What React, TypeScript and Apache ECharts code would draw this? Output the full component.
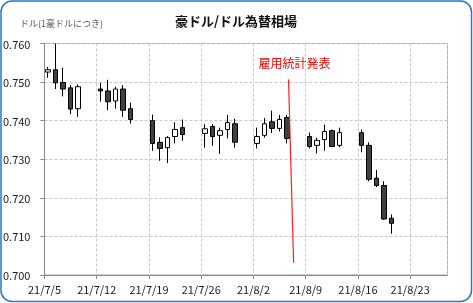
import React, { useEffect, useRef } from "react";
import * as echarts from "echarts";

// ---- data ----
const startDate = "2021-07-05";
const axisMaxDays = 54;
const tickLabels = ["21/7/5", "21/7/12", "21/7/19", "21/7/26", "21/8/2", "21/8/9", "21/8/16", "21/8/23"];

const tradingDays = [
  "2021-07-05", "2021-07-06", "2021-07-07", "2021-07-08", "2021-07-09",
  "2021-07-12", "2021-07-13", "2021-07-14", "2021-07-15", "2021-07-16",
  "2021-07-19", "2021-07-20", "2021-07-21", "2021-07-22", "2021-07-23",
  "2021-07-26", "2021-07-27", "2021-07-28", "2021-07-29", "2021-07-30",
  "2021-08-02", "2021-08-03", "2021-08-04", "2021-08-05", "2021-08-06",
  "2021-08-09", "2021-08-10", "2021-08-11", "2021-08-12", "2021-08-13",
  "2021-08-16", "2021-08-17", "2021-08-18", "2021-08-19", "2021-08-20",
];

const openValues = [
  0.7526, 0.7532, 0.7499, 0.7485, 0.7431,
  0.7482, 0.7477, 0.7451, 0.7482, 0.7431,
  0.7400, 0.7344, 0.7330, 0.7359, 0.7382,
  0.7367, 0.7385, 0.7362, 0.7377, 0.7392,
  0.7341, 0.7362, 0.7397, 0.7380, 0.7408,
  0.7359, 0.7336, 0.7351, 0.7374, 0.7336,
  0.7369, 0.7336, 0.7251, 0.7232, 0.7147,
];
const closeValues = [
  0.7532, 0.7498, 0.7482, 0.7430, 0.7488,
  0.7477, 0.7449, 0.7482, 0.7427, 0.7403,
  0.7341, 0.7328, 0.7356, 0.7377, 0.7364,
  0.7379, 0.7359, 0.7374, 0.7395, 0.7344,
  0.7359, 0.7392, 0.7380, 0.7403, 0.7354,
  0.7333, 0.7349, 0.7372, 0.7333, 0.7369,
  0.7336, 0.7248, 0.7232, 0.7145, 0.7134,
];
const lowValues = [
  0.7511, 0.7482, 0.7463, 0.7417, 0.7410,
  0.7449, 0.7427, 0.7431, 0.7410, 0.7393,
  0.7322, 0.7296, 0.7290, 0.7341, 0.7348,
  0.7330, 0.7335, 0.7314, 0.7354, 0.7330,
  0.7328, 0.7356, 0.7368, 0.7372, 0.7341,
  0.7328, 0.7315, 0.7322, 0.7331, 0.7331,
  0.7318, 0.7243, 0.7228, 0.7143, 0.7107,
];
const highValues = [
  0.7539, 0.7600, 0.7537, 0.7492, 0.7494,
  0.7498, 0.7506, 0.7488, 0.7492, 0.7447,
  0.7416, 0.7357, 0.7360, 0.7396, 0.7403,
  0.7391, 0.7391, 0.7382, 0.7415, 0.7405,
  0.7382, 0.7407, 0.7426, 0.7415, 0.7415,
  0.7369, 0.7356, 0.7390, 0.7377, 0.7382,
  0.7377, 0.7344, 0.7272, 0.7243, 0.7157,
];

const yMin = 0.7;
const yMax = 0.76;
const yInterval = 0.01;

const titleText = "豪ドル/ドル為替相場";
const unitText = "ドル(1豪ドルにつき)";
const eventText = "雇用統計発表";
// annotation line endpoints in data space [day offset, rate]
const eventLineStart = [32.7, 0.7507];
const eventLineEnd = [33.38, 0.7032];
const eventLabelAt = [33.5, 0.7552];

const FONT = "'Noto Sans CJK JP', 'Noto Sans', sans-serif";

function dayOffset(d: string): number {
  const ms = Date.parse(d + "T00:00:00Z") - Date.parse(startDate + "T00:00:00Z");
  return Math.round(ms / 86400000);
}

export default function App() {
  const ref = useRef<HTMLDivElement>(null);

  useEffect(() => {
    if (!ref.current) return;
    const chart = echarts.init(ref.current, null, { renderer: "svg" });

    const candleData = tradingDays.map((d, i) => [
      dayOffset(d) + 0.5,
      openValues[i],
      closeValues[i],
      lowValues[i],
      highValues[i],
    ]);

    chart.setOption({
      animation: false,
      backgroundColor: "transparent",
      graphic: [
        {
          type: "rect",
          z: -100,
          silent: true,
          shape: { x: 1, y: 1, width: 470.5, height: 300.5, r: 11 },
          style: { fill: "#ffffff", stroke: "#2678c8", lineWidth: 1.5 },
        },
        {
          type: "text",
          x: 236,
          y: 20,
          style: {
            text: titleText,
            font: `bold 13px ${FONT}`,
            fill: "#111111",
            align: "center",
            verticalAlign: "middle",
          },
        },
        {
          type: "text",
          x: 20,
          y: 23,
          style: {
            text: unitText,
            font: `9px ${FONT}`,
            fill: "#595959",
            align: "left",
            verticalAlign: "middle",
          },
        },
      ],
      grid: {
        left: 43.5,
        right: 25.5,
        top: 43.5,
        bottom: 28,
        show: true,
        borderColor: "#a6a6a6",
        borderWidth: 1,
        backgroundColor: "transparent",
      },
      xAxis: {
        type: "value",
        min: 0,
        max: axisMaxDays,
        interval: 7,
        axisLine: { show: true, onZero: false, lineStyle: { color: "#898989", width: 1 } },
        axisTick: { show: true, length: 4, lineStyle: { color: "#898989" } },
        splitLine: { show: true, lineStyle: { color: "#c8c8c8", type: [3, 2], width: 1 } },
        axisLabel: {
          color: "#1a1a1a",
          fontSize: 11,
          fontFamily: FONT,
          margin: 8,
          showMaxLabel: false,
          formatter: (v: number) => {
            if (v % 7 !== 0) return "";
            return tickLabels[v / 7] ?? "";
          },
        },
      },
      yAxis: {
        type: "value",
        min: yMin,
        max: yMax,
        interval: yInterval,
        axisLine: { show: true, lineStyle: { color: "#898989", width: 1 } },
        axisTick: { show: true, length: 4, lineStyle: { color: "#898989" } },
        splitLine: { show: true, lineStyle: { color: "#c8c8c8", type: [3, 2], width: 1 } },
        axisLabel: {
          color: "#1a1a1a",
          fontSize: 11,
          fontFamily: FONT,
          margin: 14,
          formatter: (v: number) => v.toFixed(3),
        },
      },
      series: [
        {
          type: "candlestick",
          data: candleData,
          barWidth: 5,
          itemStyle: {
            color: "#ffffff",
            color0: "#404040",
            borderColor: "#000000",
            borderColor0: "#000000",
            borderWidth: 1,
          },
          markLine: {
            silent: true,
            symbol: ["none", "none"],
            label: { show: false },
            lineStyle: { color: "#ff2020", type: "solid", width: 1.2 },
            data: [[{ coord: eventLineStart }, { coord: eventLineEnd }]],
          },
          markPoint: {
            silent: true,
            symbol: "circle",
            symbolSize: 0,
            data: [
              {
                coord: eventLabelAt,
                label: {
                  show: true,
                  position: "inside",
                  formatter: eventText,
                  color: "#ff0000",
                  fontSize: 12,
                  fontFamily: FONT,
                },
              },
            ],
          },
        },
      ],
    });

    return () => chart.dispose();
  }, []);

  return (
    <div
      ref={ref}
      style={{ position: "fixed", left: 0, top: 0, width: 473, height: 303 }}
    />
  );
}
